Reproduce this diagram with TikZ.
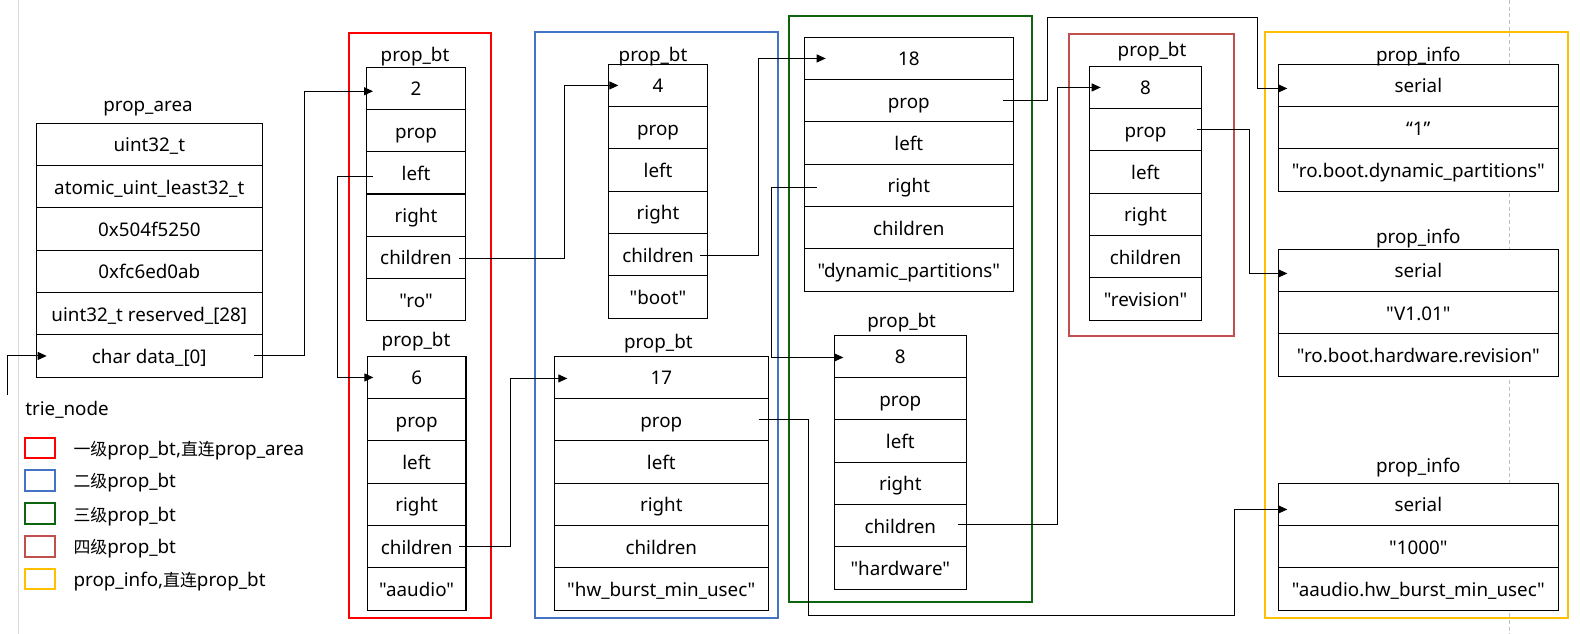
\documentclass[tikz,border=0pt]{standalone}
\usepackage{fontspec}
\newfontfamily\mainf{Noto Sans}
\newfontfamily\cjk{Noto Sans CJK SC}[Scale=0.9]
\usetikzlibrary{arrows.meta,calc}
\definecolor{lvA}{HTML}{FF0000}
\definecolor{lvB}{HTML}{4472C4}
\definecolor{lvC}{HTML}{0F6410}
\definecolor{lvD}{HTML}{C0504D}
\definecolor{lvE}{HTML}{FFC000}
\definecolor{marginline}{HTML}{D9D9D9}
\definecolor{dashline}{HTML}{BFBFBF}
\tikzset{
 cell/.style={draw=black, line width=0.8pt, fill=white, inner sep=0pt, outer sep=0pt,
   minimum height=31.725pt, text height=11.3pt, text depth=0pt, font=\mainf\fontsize{14.1}{16}\selectfont},
 lbl/.style={inner sep=0pt, text height=11.3pt, text depth=0pt, font=\mainf\fontsize{14.1}{16}\selectfont},
 conn/.style={draw=black, line width=0.75pt, -{Triangle[length=6.75pt,width=6pt]}},
 frame/.style={line width=1.5pt},
 legbox/.style={line width=1.5pt, inner sep=0pt, minimum width=22.5pt, minimum height=15.45pt},
}
\newcommand\recbox[5]{%
  \foreach \rowt [count=\rowi] in {#5}{
    \node[cell, minimum width=#4*0.75pt] (#1-\rowi) at ({#2+#4/2},{#3+(\rowi-0.5)*42.3}) {\rowt};
  }}
\begin{document}
\begin{tikzpicture}[x=0.75pt,y=-0.75pt]
\useasboundingbox (0,0) rectangle (1580,634);
\fill[white] (0,0) rectangle (1580,634);
\draw[marginline, line width=1.2pt] (18.3,0) -- (18.3,634);
\draw[dashline, line width=0.75pt, dash pattern=on 3pt off 2pt] (1509.5,0) -- (1509.5,634);
% group frames
\draw[frame, lvA] (349,33) rectangle (490.7,618);
\draw[frame, lvB] (535,32.3) rectangle (778.3,617.7);
\draw[frame, lvC] (789,15.7) rectangle (1031.7,601.7);
\draw[frame, lvD] (1069,34) rectangle (1234.3,336.3);
\draw[frame, lvE] (1265.3,32.3) rectangle (1568.4,617.7);
% records
\recbox{pa}{36.3}{123.3}{226}{uint32\_t,atomic\_uint\_least32\_t,0x504f5250,0xfc6ed0ab,uint32\_t reserved\_[28],char data\_[0]}
\recbox{bA}{366.7}{67.1}{98.6}{2,prop,left,right,children,"ro"}
\recbox{bB}{367.3}{356.3}{98.7}{6,prop,left,right,children,"aaudio"}
\recbox{bC}{608.7}{64.3}{98.6}{4,prop,left,right,children,"boot"}
\recbox{bD}{554.3}{356.3}{214}{17,prop,left,right,children,"hw\_burst\_min\_usec"}
\recbox{bE}{804.3}{37.3}{209}{18,prop,left,right,children,"dynamic\_partitions"}
\recbox{bF}{834.3}{335.3}{132}{8,prop,left,right,children,"hardware"}
\recbox{bG}{1089.7}{66.3}{111.6}{8,prop,left,right,children,"revision"}
\recbox{iA}{1278.3}{64.3}{280}{serial,“1”,"ro.boot.dynamic\_partitions"}
\recbox{iB}{1278.3}{249.3}{280}{serial,"V1.01","ro.boot.hardware.revision"}
\recbox{iC}{1278.3}{483.3}{280}{serial,"1000","aaudio.hw\_burst\_min\_usec"}
% titles
\node[lbl] (paL) at (148,104.2) {prop\_area};
\node[lbl] (bAL) at (415,54) {prop\_bt};
\node[lbl] (bBL) at (416,339.2) {prop\_bt};
\node[lbl] (bCL) at (653,54.2) {prop\_bt};
\node[lbl] (bDL) at (658.3,340.8) {prop\_bt};
\node[lbl] (bFL) at (901.7,319.8) {prop\_bt};
\node[lbl] (bGL) at (1152,49.2) {prop\_bt};
\node[lbl] (iAL) at (1418.3,53.5) {prop\_info};
\node[lbl] (iBL) at (1418.3,235.8) {prop\_info};
\node[lbl] (iCL) at (1418.3,464.8) {prop\_info};
% legend
\node[lbl, anchor=west] (leg) at (25,408.2) {trie\_node};
\node[legbox, draw=lvA] (lgA) at (40,448) {};
\node[legbox, draw=lvB] (lgB) at (40,480.3) {};
\node[legbox, draw=lvC] (lgC) at (40,513.7) {};
\node[legbox, draw=lvD] (lgD) at (40,546.2) {};
\node[legbox, draw=lvE] (lgE) at (40,579) {};
\node[lbl, anchor=west] (lgAt) at (73.3,448) {{\cjk 一级}prop\_bt,{\cjk 直连}prop\_area};
\node[lbl, anchor=west] (lgBt) at (73.3,480.3) {{\cjk 二级}prop\_bt};
\node[lbl, anchor=west] (lgCt) at (73.3,513.7) {{\cjk 三级}prop\_bt};
\node[lbl, anchor=west] (lgDt) at (73.3,546.2) {{\cjk 四级}prop\_bt};
\node[lbl, anchor=west] (lgEt) at (73.3,579) {prop\_info,{\cjk 直连}prop\_bt};
% connectors
\coordinate (fs) at (7,395);
\draw[conn] (fs) |- ($(pa-6.west)+(10.4,0)$);
\draw[conn] ($(pa-6.east)+(-8,0)$) -- ++(50,0) |- ($(bA-1.west)+(6.3,3)$);
\draw[conn] ($(bA-3.west)+(6.3,4)$) -- ++(-35.3,0) |- ($(bB-1.west)+(6,0)$);
\draw[conn] ($(bA-5.east)+(-6,1)$) -- ++(105,0) |- ($(bC-1.west)+(9.6,0)$);
\draw[conn] ($(bB-5.east)+(-6.7,0)$) -- ++(51,0) |- ($(bD-1.west)+(13,1)$);
\draw[conn] ($(bC-5.east)+(-7.3,1)$) -- ++(58.3,0) |- ($(bE-1.west)+(21.4,0)$);
\draw[conn] ($(bE-4.west)+(12.4,2)$) -- ++(-45,0) |- ($(bF-1.west)+(9,1)$);
\draw[conn] ($(bE-2.east)+(-10,0)$) -- ++(44.4,0) -- ++(0,-83.4) -| ($(iA-1.west)+(-21,3)$) -- ($(iA-1.west)+(9,3)$);
\draw[conn] ($(bF-5.east)+(-8.6,-1.3)$) -- ++(99.6,0) |- ($(bG-1.west)+(11,0)$);
\draw[conn] ($(bG-2.east)+(-4.6,0)$) -- ++(52.6,0) |- ($(iB-1.west)+(9,3)$);
\draw[conn] ($(bD-2.east)+(-9.6,0)$) -- ++(49.6,0) -- ++(0,195.3) -| ($(iC-1.west)+(-44,5)$) -- ($(iC-1.west)+(9,5)$);
\end{tikzpicture}
\end{document}
